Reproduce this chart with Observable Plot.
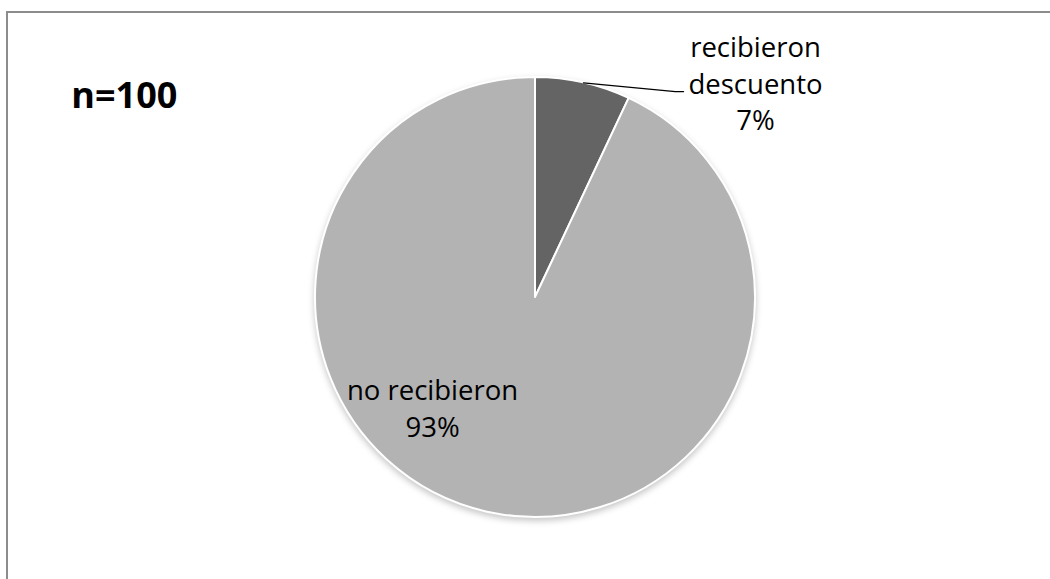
<!DOCTYPE html>
<html>
<head>
<meta charset="utf-8">
<script src="https://cdn.jsdelivr.net/npm/d3@7"></script>
<script src="https://cdn.jsdelivr.net/npm/@observablehq/plot@0.6"></script>
<style>
  body { margin: 0; background: #fff; }
  #wrap { position: relative; width: 1050px; height: 579px; overflow: hidden; }
  #wrap svg { position: absolute; left: 0; top: 0; }
  #frame { position: absolute; left: 6px; top: 11px; width: 1100px; height: 620px;
           border-left: 2px solid #8c8c8c; border-top: 2px solid #8c8c8c; pointer-events: none; }
</style>
</head>
<body>
<div id="wrap"><div id="frame"></div></div>
<script>
// Survey: share of customers who received a discount
const categories = ["recibieron descuento", "no recibieron"];
const values = [7, 93];
const percentLabels = ["7%", "93%"];
const nameLabels = ["recibieron\ndescuento", "no recibieron"];
const sampleNote = "n=100";
const sliceColors = ["#646464", "#b3b3b3"];

const rows = categories.map((c, i) => ({
  category: c, value: values[i],
  label: nameLabels[i] + "\n" + percentLabels[i], color: sliceColors[i]
}));

// slices start at 12 o'clock and run clockwise, in data order
const arcs = d3.pie().sort(null).value(d => d.value)(rows);

// label placement in unit-radius coordinates
const labelPos = [[1.0, 0.98], [-0.468, -0.497]];
const labelRows = rows.map((r, i) => ({...r, px: labelPos[i][0], py: labelPos[i][1]}));

// leader line from the middle of the small slice's rim to its label
const a0 = arcs[0];
const mid0 = (a0.startAngle + a0.endAngle) / 2;
const leader = [
  {x: Math.sin(mid0), y: Math.cos(mid0)},
  {x: 0.636, y: 0.936},
  {x: 0.673, y: 0.936}
];

// pie drawn through the plot's x/y scales
function pieMark(index, scales) {
  const cx = scales.x(0), cy = scales.y(0);
  const r = scales.x(1) - scales.x(0);
  const arc = d3.arc().innerRadius(0).outerRadius(r);
  const g = d3.create("svg:g")
    .attr("transform", `translate(${cx},${cy})`)
    .style("filter", "drop-shadow(0px 3px 3px rgba(0,0,0,0.22))");
  g.selectAll("path").data(arcs).join("path")
    .attr("d", arc)
    .attr("fill", d => d.data.color)
    .attr("stroke", "#fff")
    .attr("stroke-width", 2)
    .attr("stroke-linejoin", "round");
  return g.node();
}

const chart = Plot.plot({
  width: 1050,
  height: 579,
  margin: 0,
  style: { background: "transparent", fontFamily: "'Open Sans', sans-serif" },
  x: { type: "linear", domain: [-1, 1], range: [315, 755], axis: null },
  y: { type: "linear", domain: [-1, 1], range: [517, 77], axis: null },
  marks: [
    pieMark,
    Plot.line(leader, { x: "x", y: "y", stroke: "#000", strokeWidth: 1.3 }),
    Plot.text(labelRows, {
      x: "px", y: "py", text: "label",
      fontSize: 27.5, lineHeight: 1.32, fill: "#000", textAnchor: "middle"
    }),
    Plot.text([sampleNote], {
      x: -2.11, y: 0.915, text: d => d,
      fontSize: 36, fontWeight: "bold", fill: "#000", textAnchor: "start"
    })
  ]
});

document.getElementById("wrap").prepend(chart);
</script>
</body>
</html>
